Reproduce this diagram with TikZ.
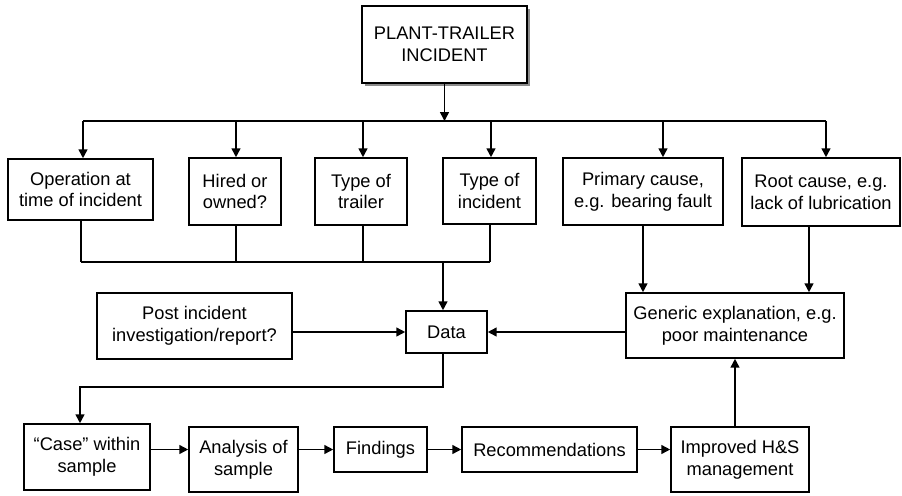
\documentclass[tikz,border=0pt]{standalone}
\usepackage{fontspec}
\setmainfont{Liberation Sans}
\usetikzlibrary{arrows.meta,shadows}
\begin{document}
\begin{tikzpicture}[x=0.025cm,y=-0.025cm,>={Triangle[length=2.2mm,width=2.2mm]},
  line width=1.1pt,
  box/.style={draw,line width=1.1pt,fill=white,align=center,inner sep=1pt,
    font=\fontsize{13}{15.5}\selectfont}]
\useasboundingbox (0,0) rectangle (902,495);
% các hộp
\node[box,minimum width=4.125cm,minimum height=1.925cm,
  drop shadow={shadow xshift=0.08cm,shadow yshift=-0.08cm,fill=black!45,opacity=1}]
  (top) at (444.5,44.5) {PLANT-TRAILER\\INCIDENT};
\node[box,minimum width=3.625cm,minimum height=1.525cm] (op) at (80.5,189.5) {Operation at\\time of incident};
\node[box,minimum width=2.3cm,minimum height=1.675cm] (hired) at (235,191.5) {Hired or\\owned?};
\node[box,minimum width=2.3cm,minimum height=1.675cm] (trailer) at (361,191.5) {Type of\\trailer};
\node[box,minimum width=2.325cm,minimum height=1.65cm] (incident) at (489.5,191) {Type of\\incident};
\node[box,minimum width=4.0cm,minimum height=1.675cm] (primary) at (643,191.5) {Primary cause,\\e.g. bearing fault};
\node[box,minimum width=3.95cm,minimum height=1.7cm] (root) at (821,192) {Root cause, e.g.\\lack of lubrication};
\node[box,minimum width=4.875cm,minimum height=1.65cm] (post) at (194.5,326) {Post incident\\investigation/report?};
\node[box,minimum width=2.025cm,minimum height=1.05cm] (data) at (446.5,332) {Data};
\node[box,minimum width=5.45cm,minimum height=1.625cm] (generic) at (735,325.5) {Generic explanation, e.g.\\poor maintenance};
\node[box,minimum width=3.15cm,minimum height=1.65cm] (case) at (87,457) {``Case'' within\\sample};
\node[box,minimum width=2.725cm,minimum height=1.625cm] (analysis) at (243.5,459.5) {Analysis of\\sample};
\node[box,minimum width=2.325cm,minimum height=1.125cm] (findings) at (380.5,449.5) {Findings};
\node[box,minimum width=4.375cm,minimum height=1.125cm] (recs) at (549.5,449.5) {Recommendations};
\node[box,minimum width=3.45cm,minimum height=1.625cm] (improved) at (740,459.5) {Improved H\&S\\management};
% đường trên
\coordinate (busT) at (444.5,121);
\draw[->] (top) -- (busT);
\draw (83,121) -- (826,121);
\foreach \n/\x in {op/83,hired/236,trailer/363,incident/491,primary/663,root/826}
  \draw[->] (\x,121) -- (\x,121 |- \n.north);
% đường dưới
\coordinate (busB) at (443,262);
\foreach \n/\x in {op/81,hired/236,trailer/363,incident/490}
  \draw (\x,262 |- \n.south) -- (\x,262);
\draw (81,262) -- (490,262);
\draw[->] (busB) -- (busB |- data.north);
\draw[->] (primary) -- (primary.south |- generic.north);
\draw[->] (809,262 |- root.south) -- (809,262 |- generic.north);
\draw[->] (post.east |- data) -- (data.west);
\draw[->] (generic.west |- data) -- (data.east);
\draw[->] (busB |- data.south) |- (80,387) -- (80,387 |- case.north);
% hàng cuối
\draw[->] (case.east |- findings) -- (analysis.west |- findings);
\draw[->] (analysis.east |- findings) -- (findings.west);
\draw[->] (findings) -- (recs);
\draw[->] (recs.east) -- (improved.west |- recs);
\draw[->] (generic.south |- improved.north) -- (generic.south);
\end{tikzpicture}
\end{document}
